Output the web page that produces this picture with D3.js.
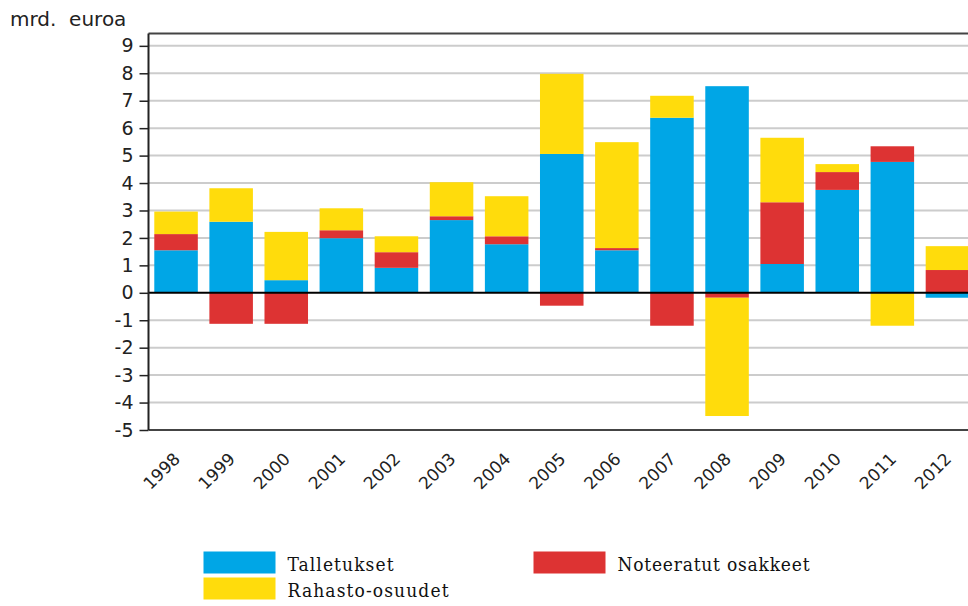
<!DOCTYPE html>
<html>
<head>
<meta charset="utf-8">
<script src="https://cdn.jsdelivr.net/npm/d3@7"></script>
<style>
  body { margin: 0; background: #fff; }
  svg { display: block; }
  .ylab, .xlab, .unit { font-family: "DejaVu Sans", sans-serif; fill: #222; }
  .leg { font-family: "DejaVu Serif Condensed", "DejaVu Serif", serif; fill: #111; }
</style>
</head>
<body>
<div id="chart"></div>
<script>
// arvot luettu kuvasta (mrd. euroa)
var years = ['1998','1999','2000','2001','2002','2003','2004','2005','2006','2007','2008','2009','2010','2011','2012'];
var talletukset = [1.55, 2.59, 0.46, 1.99, 0.91, 2.65, 1.77, 5.06, 1.55, 6.38, 7.53, 1.05, 3.75, 4.77, -0.18];
var noteeratut  = [0.59, -1.13, -1.13, 0.29, 0.57, 0.14, 0.29, -0.47, 0.08, -1.20, -0.18, 2.25, 0.65, 0.57, 0.83];
var rahasto     = [0.82, 1.22, 1.76, 0.80, 0.58, 1.24, 1.46, 2.92, 3.86, 0.80, -4.31, 2.35, 0.29, -1.20, 0.87];
var yTicks = [-5,-4,-3,-2,-1,0,1,2,3,4,5,6,7,8,9];

var keys = ['Talletukset', 'Noteeratut osakkeet', 'Rahasto-osuudet'];
var colors = { 'Talletukset': '#00a6e6', 'Noteeratut osakkeet': '#dd3333', 'Rahasto-osuudet': '#ffdc0c' };

var width = 968, height = 606;
var plotLeft = 148.5, plotRight = 975, plotTop = 33.5, plotBottom = 430;

var rows = years.map(function(y, i) {
  return { year: y, 'Talletukset': talletukset[i], 'Noteeratut osakkeet': noteeratut[i], 'Rahasto-osuudet': rahasto[i] };
});

var svg = d3.select('#chart').append('svg')
  .attr('width', width)
  .attr('height', height);

var x = d3.scaleBand().domain(years).range([plotLeft, plotRight]).paddingInner(0.21).paddingOuter(0.105);
var y = d3.scaleLinear().domain([-5, 9.45]).range([plotBottom, plotTop]);

// gridlines
svg.append('g').selectAll('line')
  .data(yTicks.filter(function(d){ return d !== 0 && d !== -5; }))
  .enter().append('line')
  .attr('x1', plotLeft).attr('x2', width)
  .attr('y1', function(d){ return y(d); }).attr('y2', function(d){ return y(d); })
  .attr('stroke', '#cccccc').attr('stroke-width', 2);

var series = d3.stack().keys(keys).offset(d3.stackOffsetDiverging)(rows);

svg.append('g').selectAll('g')
  .data(series)
  .enter().append('g')
  .attr('fill', function(s){ return colors[s.key]; })
  .selectAll('rect')
  .data(function(s){ return s; })
  .enter().append('rect')
  .attr('x', function(d){ return x(d.data.year); })
  .attr('width', x.bandwidth())
  .attr('y', function(d){ return y(Math.max(d[0], d[1])); })
  .attr('height', function(d){ return Math.abs(y(d[0]) - y(d[1])); });

// frame
svg.append('line').attr('x1', plotLeft).attr('x2', width).attr('y1', plotTop).attr('y2', plotTop)
  .attr('stroke', '#444').attr('stroke-width', 2);
svg.append('line').attr('x1', plotLeft).attr('x2', width).attr('y1', plotBottom).attr('y2', plotBottom)
  .attr('stroke', '#444').attr('stroke-width', 2);
svg.append('line').attr('x1', plotLeft).attr('x2', width).attr('y1', y(0)).attr('y2', y(0))
  .attr('stroke', '#000').attr('stroke-width', 2);

// y axis
var yAxis = svg.append('g')
  .attr('transform', 'translate(' + plotLeft + ',0)')
  .call(d3.axisLeft(y).tickValues(yTicks).tickSize(9).tickPadding(6).tickFormat(function(d){ return String(d); }));
yAxis.select('.domain').attr('stroke', '#222').attr('stroke-width', 2)
  .attr('d', 'M0,' + plotTop + 'V' + plotBottom);
yAxis.selectAll('.tick line').attr('stroke', '#222').attr('stroke-width', 1.5);
yAxis.selectAll('.tick text').attr('class', 'ylab').style('font-size', '19px')
  .attr('fill', '#222');

svg.append('text').attr('class', 'unit')
  .attr('x', 10).attr('y', 26)
  .style('font-size', '20px')
  .text('mrd.\u00a0 euroa');

// x labels
svg.append('g').selectAll('text')
  .data(years)
  .enter().append('text')
  .attr('class', 'xlab')
  .style('font-size', '17px')
  .attr('text-anchor', 'end')
  .attr('transform', function(d){ return 'translate(' + (x(d) + x.bandwidth()/2 + 5) + ',460) rotate(-45)'; })
  .text(function(d){ return d; });

// legend
var legend = [
  { key: 'Talletukset', x: 203.5, y: 551.5, w: 106 },
  { key: 'Rahasto-osuudet', x: 203.5, y: 577.5, w: 161 },
  { key: 'Noteeratut osakkeet', x: 533.5, y: 551.5, w: 192 }
];
var lg = svg.append('g').selectAll('g').data(legend).enter().append('g')
  .attr('transform', function(d){ return 'translate(' + d.x + ',' + d.y + ')'; });
lg.append('rect').attr('width', 72).attr('height', 22)
  .attr('fill', function(d){ return colors[d.key]; });
lg.append('text').attr('class', 'leg')
  .attr('x', 84).attr('y', 19)
  .style('font-size', '19px')
  .attr('textLength', function(d){ return d.w; })
  .attr('lengthAdjust', 'spacing')
  .text(function(d){ return d.key; });
</script>
</body>
</html>
